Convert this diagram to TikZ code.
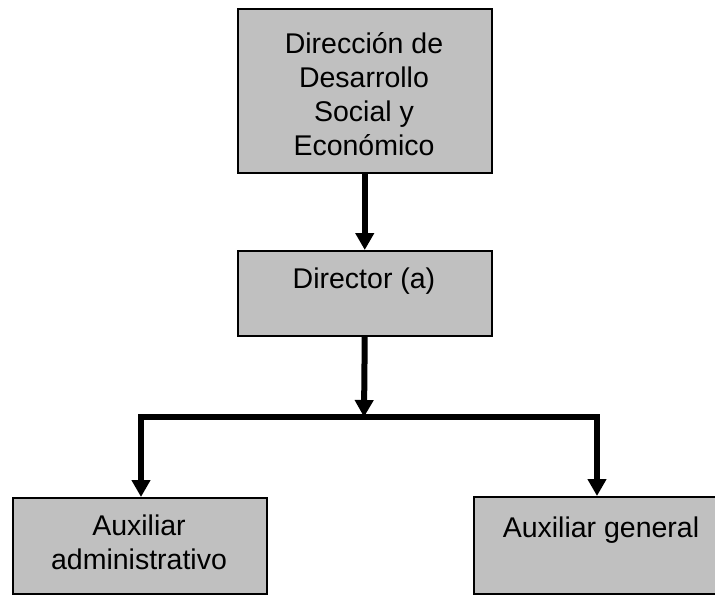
\documentclass[tikz,border=0pt]{standalone}
\usepackage{fontspec}
\setmainfont{Liberation Sans}
\usetikzlibrary{arrows.meta}
\definecolor{boxgray}{HTML}{C0C0C0}
\begin{document}
\begin{tikzpicture}[x=1pt,y=-1pt,
  box/.style={draw=black, line width=1.5pt, fill=boxgray, rectangle, inner sep=0pt, anchor=north west},
  lbl/.style={font=\fontsize{28.5}{33.7}\selectfont, align=center, inner sep=0pt, anchor=base},
  conn/.style={line width=6pt, line join=miter, -{Triangle[width=18pt,length=17pt]}},
  bar/.style={line width=6pt, line join=miter}]
\useasboundingbox (0,0) rectangle (715,595);
\clip (0,0) rectangle (715,595);
\fill[white] (0,0) rectangle (715,595);
% boxes
\node[box, minimum width=254pt, minimum height=164pt] (top) at (237,8) {};
\node[box, minimum width=254pt, minimum height=85pt] (dir) at (237,250) {};
\node[box, minimum width=254pt, minimum height=96pt] (lbox) at (12,497) {};
\node[box, minimum width=256pt, minimum height=97pt] (rbox) at (473,496) {};
% labels (base anchor = baseline of the last line)
\node[lbl] (toptext) at (364,155) {Dirección de\\Desarrollo\\Social y\\Económico};
\node[lbl] (dirtext) at (364,288) {Director (a)};
\node[lbl] (ltext) at (139,569) {Auxiliar\\administrativo};
\node[lbl] (rtext) at (601,537) {Auxiliar general};
% connectors
\coordinate (j) at (364,417);
\coordinate (bl) at (141,417);
\coordinate (br) at (597,417);
\draw[conn] (top.south) -- (dir.north);
\draw[conn] (dir.south) -- (j);
\draw[bar] (bl) -- (br);
\draw[conn] (j) -- (bl) -- (bl |- lbox.north);
\draw[conn] (j) -- (br) -- (br |- rbox.north);
\end{tikzpicture}
\end{document}
